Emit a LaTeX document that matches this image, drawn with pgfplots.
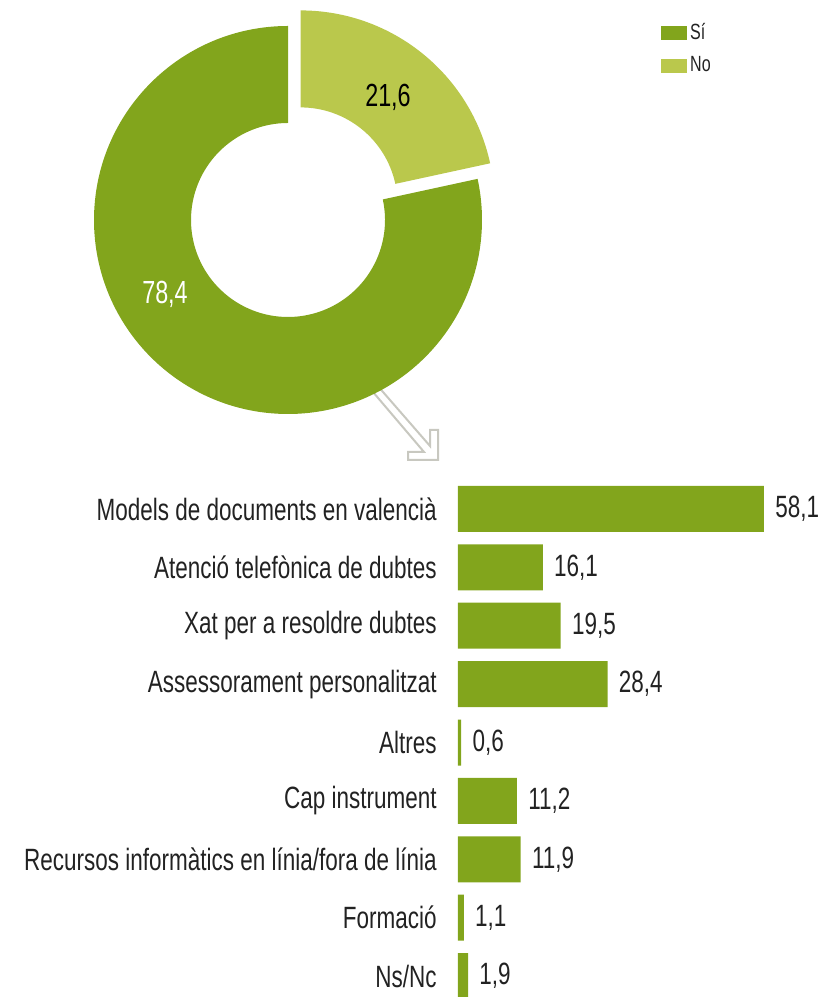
\documentclass[border=0pt]{standalone}
\usepackage{fontspec}
\setmainfont{Liberation Sans}[FakeStretch=0.73]
\usepackage{pgfplots}
\pgfplotsset{compat=1.18}

\definecolor{si}{HTML}{82A51C}
\definecolor{no}{HTML}{BAC84C}
\definecolor{arrowgray}{HTML}{C8C8C0}
\definecolor{txt}{HTML}{222222}

% donut values (percent)
\def\vsi{78.4}
\def\vno{21.6}

\begin{document}
\begin{tikzpicture}
% canvas axis: one unit = one pixel of the reference
\begin{axis}[
  at={(0pt,0pt)}, anchor=south west,
  scale only axis, width=411.5pt, height=498.5pt,
  xmin=0, xmax=823, ymin=0, ymax=997,
  hide axis, clip=false,
  legend style={at={(axis cs:661,977)}, anchor=north west, draw=none, fill=none,
    font=\fontsize{11}{12}\selectfont\color{txt}, inner sep=0pt,
    row sep=4pt, nodes={inner sep=1.5pt}},
  legend cell align=left,
  legend image code/.code={\fill[#1] (0pt,-3.25pt) rectangle (12.5pt,3.25pt);},
]
\pgfmathsetmacro{\aend}{90-\vno*3.6}
\pgfmathsetmacro{\asi}{360+\aend}
\pgfmathsetmacro{\amid}{(90+\aend)/2}
\pgfmathsetmacro{\cx}{288}
\pgfmathsetmacro{\cy}{777}
\pgfmathsetmacro{\nx}{\cx+20*cos(\amid)}
\pgfmathsetmacro{\ny}{\cy+20*sin(\amid)}
% arrow
\draw[arrowgray, line width=1pt, fill=white, line join=miter]
  (axis cs:438,567) -- (axis cs:438,537) -- (axis cs:408,537) -- (axis cs:408,545)
  -- (axis cs:424,545) -- (axis cs:365,614.4) -- (axis cs:375,614.2)
  -- (axis cs:430,551) -- (axis cs:430,567) -- cycle;
% Si slice
\fill[si] (axis cs:\cx,\cy+194) arc[start angle=90, end angle=\asi, radius=194]
  -- (axis cs:{\cx+97*cos(\asi)},{\cy+97*sin(\asi)})
  arc[start angle=\asi, end angle=90, radius=97] -- cycle;
% No slice (exploded)
\fill[no] (axis cs:{\nx+194*cos(\aend)},{\ny+194*sin(\aend)}) arc[start angle=\aend, end angle=90, radius=194]
  -- (axis cs:\nx,\ny+97)
  arc[start angle=90, end angle=\aend, radius=97] -- cycle;
\node[text=black, font=\fontsize{16}{18}\selectfont] at (axis cs:388,900) {21,6};
\node[text=white, font=\fontsize{16}{18}\selectfont] at (axis cs:165,703) {78,4};
\addlegendimage{si}
\addlegendentry{Sí}
\addlegendimage{no}
\addlegendentry{No}
\end{axis}

% bar chart
\begin{axis}[
  at={(229pt,258.6pt)}, anchor=north west,
  scale only axis, width=158pt, height=262.7pt,
  xmin=0, xmax=60, ymin=-0.5, ymax=8.5, y dir=reverse,
  xbar, bar width=23pt, bar shift=0pt,
  axis line style={draw=none}, xtick=\empty,
  ytick={0,...,8}, major tick length=0pt,
  yticklabels={Models de documents en valencià, Atenció telefònica de dubtes,
    Xat per a resoldre dubtes, Assessorament personalitzat, Altres, Cap instrument,
    Recursos informàtics en línia/fora de línia, Formació, Ns/Nc},
  yticklabel style={anchor=east, inner sep=0pt, xshift=-10.5pt,
    font=\fontsize{15.4}{17}\selectfont, text=txt},
  clip=false,
  nodes near coords={\pgfmathprintnumber[fixed,fixed zerofill,precision=1,use comma,assume math mode=true]{\pgfplotspointmeta}},
  every node near coord/.append style={anchor=west, inner sep=0pt, xshift=5.5pt,
    font=\fontsize{15.4}{17}\selectfont, text=txt},
]
\addplot[fill=si, draw=none] coordinates {
  (58.1,0) (16.1,1) (19.5,2) (28.4,3) (0.6,4) (11.2,5) (11.9,6) (1.1,7) (1.9,8)};
\end{axis}
\pgfresetboundingbox
\useasboundingbox (0pt,0pt) rectangle (411.5pt,498.5pt);
\end{tikzpicture}
\end{document}
